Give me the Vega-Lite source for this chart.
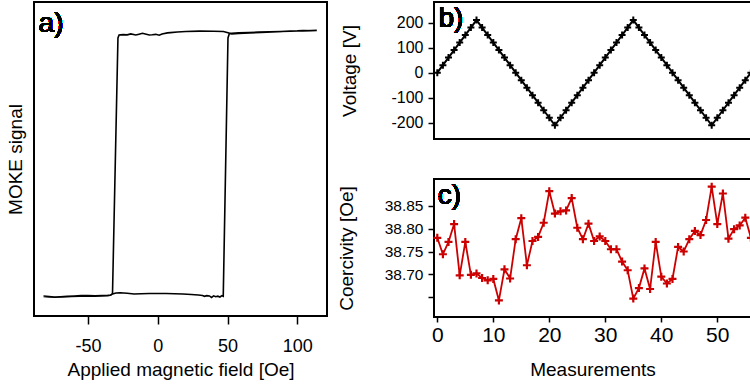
{
  "$schema": "https://vega.github.io/schema/vega-lite/v6.json",
  "background": "white",
  "padding": {"left": 5, "top": 1, "right": 0, "bottom": 0},
  "config": {
    "font": "Liberation Sans",
    "view": {"stroke": "black", "strokeWidth": 2},
    "text": {"fontWeight": "normal"},
    "axis": {
      "grid": false,
      "domain": false,
      "tickColor": "black",
      "tickWidth": 1.5,
      "tickCount": 12,
      "labelColor": "black",
      "titleColor": "black",
      "labelFont": "Liberation Sans",
      "titleFont": "Liberation Sans",
      "titleFontWeight": "normal",
      "titleFontSize": 19,
      "labelOverlap": false
    }
  },
  "datasets": {
    "loop": [
      {"i": 0, "H": -82, "moke": -1.000},
      {"i": 1, "H": -78, "moke": -1.004},
      {"i": 2, "H": -74, "moke": -1.008},
      {"i": 3, "H": -70, "moke": -1.006},
      {"i": 4, "H": -65, "moke": -1.003},
      {"i": 5, "H": -60, "moke": -1.000},
      {"i": 6, "H": -55, "moke": -0.998},
      {"i": 7, "H": -50, "moke": -0.998},
      {"i": 8, "H": -45, "moke": -0.999},
      {"i": 9, "H": -40, "moke": -0.997},
      {"i": 10, "H": -36, "moke": -0.996},
      {"i": 11, "H": -34, "moke": -0.993},
      {"i": 12, "H": -32.5, "moke": -0.985},
      {"i": 13, "H": -30, "moke": -0.978},
      {"i": 14, "H": -27, "moke": -0.976},
      {"i": 15, "H": -22, "moke": -0.980},
      {"i": 16, "H": -17, "moke": -0.985},
      {"i": 17, "H": -12, "moke": -0.983},
      {"i": 18, "H": -6, "moke": -0.982},
      {"i": 19, "H": 0, "moke": -0.981},
      {"i": 20, "H": 6, "moke": -0.982},
      {"i": 21, "H": 12, "moke": -0.983},
      {"i": 22, "H": 18, "moke": -0.985},
      {"i": 23, "H": 24, "moke": -0.989},
      {"i": 24, "H": 29, "moke": -0.993},
      {"i": 25, "H": 32, "moke": -0.996},
      {"i": 26, "H": 33.5, "moke": -1.003},
      {"i": 27, "H": 35, "moke": -0.998},
      {"i": 28, "H": 37, "moke": -1.000},
      {"i": 29, "H": 38.5, "moke": -1.011},
      {"i": 30, "H": 40, "moke": -0.999},
      {"i": 31, "H": 41.5, "moke": -1.006},
      {"i": 32, "H": 43, "moke": -1.002},
      {"i": 33, "H": 44.5, "moke": -1.008},
      {"i": 34, "H": 46, "moke": -0.998},
      {"i": 35, "H": 46.9, "moke": -1.002},
      {"i": 36, "H": 50.3, "moke": 0.955},
      {"i": 37, "H": 51.2, "moke": 0.985},
      {"i": 38, "H": 53, "moke": 0.990},
      {"i": 39, "H": 58, "moke": 0.994},
      {"i": 40, "H": 65, "moke": 0.996},
      {"i": 41, "H": 72, "moke": 0.999},
      {"i": 42, "H": 80, "moke": 1.001},
      {"i": 43, "H": 88, "moke": 1.004},
      {"i": 44, "H": 95, "moke": 1.006},
      {"i": 45, "H": 100, "moke": 1.008},
      {"i": 46, "H": 104, "moke": 1.011},
      {"i": 47, "H": 108, "moke": 1.009},
      {"i": 48, "H": 114, "moke": 1.012},
      {"i": 49, "H": 110, "moke": 1.010},
      {"i": 50, "H": 104, "moke": 1.008},
      {"i": 51, "H": 98, "moke": 1.007},
      {"i": 52, "H": 90, "moke": 1.003},
      {"i": 53, "H": 82, "moke": 1.000},
      {"i": 54, "H": 74, "moke": 0.996},
      {"i": 55, "H": 66, "moke": 0.993},
      {"i": 56, "H": 58, "moke": 0.989},
      {"i": 57, "H": 53, "moke": 0.985},
      {"i": 58, "H": 51, "moke": 0.992},
      {"i": 59, "H": 47, "moke": 1.003},
      {"i": 60, "H": 40, "moke": 1.005},
      {"i": 61, "H": 30, "moke": 1.006},
      {"i": 62, "H": 20, "moke": 1.003},
      {"i": 63, "H": 14, "moke": 1.000},
      {"i": 64, "H": 9, "moke": 0.995},
      {"i": 65, "H": 6.9, "moke": 0.993},
      {"i": 66, "H": 3, "moke": 0.985},
      {"i": 67, "H": 1, "moke": 0.975},
      {"i": 68, "H": -1.4, "moke": 0.982},
      {"i": 69, "H": -4, "moke": 0.979},
      {"i": 70, "H": -6.2, "moke": 0.977},
      {"i": 71, "H": -9, "moke": 0.985},
      {"i": 72, "H": -11, "moke": 0.990},
      {"i": 73, "H": -13.5, "moke": 0.983},
      {"i": 74, "H": -15.8, "moke": 0.977},
      {"i": 75, "H": -19.4, "moke": 0.985},
      {"i": 76, "H": -22, "moke": 0.978},
      {"i": 77, "H": -25, "moke": 0.980},
      {"i": 78, "H": -27.8, "moke": 0.977},
      {"i": 79, "H": -28.6, "moke": 0.955},
      {"i": 80, "H": -32.5, "moke": -0.980},
      {"i": 81, "H": -33.5, "moke": -0.993},
      {"i": 82, "H": -36, "moke": -0.998},
      {"i": 83, "H": -40, "moke": -1.001},
      {"i": 84, "H": -45, "moke": -1.002},
      {"i": 85, "H": -50, "moke": -1.000},
      {"i": 86, "H": -56, "moke": -1.002},
      {"i": 87, "H": -62, "moke": -1.003},
      {"i": 88, "H": -68, "moke": -1.007},
      {"i": 89, "H": -74, "moke": -1.010},
      {"i": 90, "H": -78, "moke": -1.008},
      {"i": 91, "H": -82, "moke": -1.004}
    ],
    "voltage": [
      {"n": 0, "V": 0}, {"n": 1, "V": 30}, {"n": 2, "V": 60}, {"n": 3, "V": 90},
      {"n": 4, "V": 120}, {"n": 5, "V": 150}, {"n": 6, "V": 180}, {"n": 7, "V": 210},
      {"n": 8, "V": 180}, {"n": 9, "V": 150}, {"n": 10, "V": 120}, {"n": 11, "V": 90},
      {"n": 12, "V": 60}, {"n": 13, "V": 30}, {"n": 14, "V": 0}, {"n": 15, "V": -30},
      {"n": 16, "V": -60}, {"n": 17, "V": -90}, {"n": 18, "V": -120}, {"n": 19, "V": -150},
      {"n": 20, "V": -180}, {"n": 21, "V": -210}, {"n": 22, "V": -180}, {"n": 23, "V": -150},
      {"n": 24, "V": -120}, {"n": 25, "V": -90}, {"n": 26, "V": -60}, {"n": 27, "V": -30},
      {"n": 28, "V": 0}, {"n": 29, "V": 30}, {"n": 30, "V": 60}, {"n": 31, "V": 90},
      {"n": 32, "V": 120}, {"n": 33, "V": 150}, {"n": 34, "V": 180}, {"n": 35, "V": 210},
      {"n": 36, "V": 180}, {"n": 37, "V": 150}, {"n": 38, "V": 120}, {"n": 39, "V": 90},
      {"n": 40, "V": 60}, {"n": 41, "V": 30}, {"n": 42, "V": 0}, {"n": 43, "V": -30},
      {"n": 44, "V": -60}, {"n": 45, "V": -90}, {"n": 46, "V": -120}, {"n": 47, "V": -150},
      {"n": 48, "V": -180}, {"n": 49, "V": -210}, {"n": 50, "V": -180}, {"n": 51, "V": -150},
      {"n": 52, "V": -120}, {"n": 53, "V": -90}, {"n": 54, "V": -60}, {"n": 55, "V": -30},
      {"n": 56, "V": 0}
    ],
    "coercivity": [
      {"n": 0, "Hc": 38.780}, {"n": 1, "Hc": 38.744}, {"n": 2, "Hc": 38.771}, {"n": 3, "Hc": 38.810},
      {"n": 4, "Hc": 38.698}, {"n": 5, "Hc": 38.771}, {"n": 6, "Hc": 38.699}, {"n": 7, "Hc": 38.702},
      {"n": 8, "Hc": 38.692}, {"n": 9, "Hc": 38.687}, {"n": 10, "Hc": 38.690}, {"n": 11, "Hc": 38.643},
      {"n": 12, "Hc": 38.711}, {"n": 13, "Hc": 38.691}, {"n": 14, "Hc": 38.777}, {"n": 15, "Hc": 38.823},
      {"n": 16, "Hc": 38.720}, {"n": 17, "Hc": 38.773}, {"n": 18, "Hc": 38.782}, {"n": 19, "Hc": 38.813},
      {"n": 20, "Hc": 38.882}, {"n": 21, "Hc": 38.833}, {"n": 22, "Hc": 38.838}, {"n": 23, "Hc": 38.840},
      {"n": 24, "Hc": 38.867}, {"n": 25, "Hc": 38.802}, {"n": 26, "Hc": 38.777}, {"n": 27, "Hc": 38.811},
      {"n": 28, "Hc": 38.773}, {"n": 29, "Hc": 38.783}, {"n": 30, "Hc": 38.773}, {"n": 31, "Hc": 38.755},
      {"n": 32, "Hc": 38.755}, {"n": 33, "Hc": 38.728}, {"n": 34, "Hc": 38.709}, {"n": 35, "Hc": 38.647},
      {"n": 36, "Hc": 38.670}, {"n": 37, "Hc": 38.713}, {"n": 38, "Hc": 38.668}, {"n": 39, "Hc": 38.771},
      {"n": 40, "Hc": 38.695}, {"n": 41, "Hc": 38.680}, {"n": 42, "Hc": 38.690}, {"n": 43, "Hc": 38.760},
      {"n": 44, "Hc": 38.750}, {"n": 45, "Hc": 38.777}, {"n": 46, "Hc": 38.795}, {"n": 47, "Hc": 38.786},
      {"n": 48, "Hc": 38.819}, {"n": 49, "Hc": 38.892}, {"n": 50, "Hc": 38.810}, {"n": 51, "Hc": 38.877},
      {"n": 52, "Hc": 38.778}, {"n": 53, "Hc": 38.799}, {"n": 54, "Hc": 38.807}, {"n": 55, "Hc": 38.824},
      {"n": 56, "Hc": 38.780}
    ]
  },
  "spacing": 8,
  "hconcat": [
    {
      "width": 293,
      "height": 314,
      "data": {"name": "loop"},
      "layer": [
        {
          "mark": {"type": "line", "color": "black", "strokeWidth": 1.6},
          "encoding": {
            "x": {
              "field": "H", "type": "quantitative",
              "scale": {"domain": [-88.8, 121.3], "nice": false, "zero": false},
              "axis": {
                "title": "Applied magnetic field [Oe]",
                "values": [-50, 0, 50, 100],
                "labelExpr": "replace(datum.label, '\u2212', '-')",
                "tickSize": 8, "labelPadding": 13, "labelFontSize": 18, "titlePadding": 5
              }
            },
            "y": {
              "field": "moke", "type": "quantitative",
              "scale": {"domain": [-1.152, 1.227], "nice": false, "zero": false},
              "axis": {"title": "MOKE signal", "labels": false, "ticks": false, "titlePadding": 9}
            },
            "order": {"field": "i"}
          }
        },
        {
          "mark": {"type": "text", "fontSize": 28, "fontWeight": "normal", "align": "left", "baseline": "alphabetic", "color": "black"},
          "encoding": {
            "x": {"datum": -85.5},
            "y": {"datum": 1.0},
            "text": {"value": "a)"}
          }
        }
      ]
    },
    {
      "spacing": 37,
      "vconcat": [
        {
          "width": 317,
          "height": 137,
          "data": {"name": "voltage"},
          "layer": [
            {
              "mark": {"type": "line", "color": "black", "strokeWidth": 2},
              "encoding": {
                "x": {
                  "field": "n", "type": "quantitative",
                  "scale": {"domain": [-0.59, 56.02], "nice": false, "zero": false},
                  "axis": null
                },
                "y": {
                  "field": "V", "type": "quantitative",
                  "scale": {"domain": [-264.8, 282], "nice": false, "zero": false},
                  "axis": {
                    "title": "Voltage [V]",
                    "values": [-200, -100, 0, 100, 200],
                    "format": "d",
                    "labelExpr": "replace(datum.label, '\u2212', '-')",
                    "tickSize": 6, "labelPadding": 5, "labelFontSize": 16, "titlePadding": 31.5
                  }
                }
              }
            },
            {
              "mark": {"type": "point", "shape": "M-1,0H1M0,-1V1", "filled": false, "color": "black", "strokeWidth": 2, "size": 49, "opacity": 1},
              "encoding": {
                "x": {"field": "n", "type": "quantitative"},
                "y": {"field": "V", "type": "quantitative"}
              }
            },
            {
              "mark": {"type": "text", "fontSize": 28, "fontWeight": "normal", "align": "left", "baseline": "alphabetic", "color": "black"},
              "encoding": {
                "x": {"datum": 0.2},
                "y": {"datum": 181},
                "text": {"value": "b)"}
              }
            }
          ]
        },
        {
          "width": 317,
          "height": 138,
          "data": {"name": "coercivity"},
          "layer": [
            {
              "mark": {"type": "line", "color": "#cc0000", "strokeWidth": 1.8},
              "encoding": {
                "x": {
                  "field": "n", "type": "quantitative",
                  "scale": {"domain": [-0.59, 56.02], "nice": false, "zero": false},
                  "axis": {
                    "title": "Measurements",
                    "values": [0, 10, 20, 30, 40, 50],
                    "tickSize": 5, "labelPadding": 2, "labelFontSize": 21, "titlePadding": 15
                  }
                },
                "y": {
                  "field": "Hc", "type": "quantitative",
                  "scale": {"domain": [38.6067, 38.9087], "nice": false, "zero": false},
                  "axis": {
                    "title": "Coercivity [Oe]",
                    "values": [38.65, 38.7, 38.75, 38.8, 38.85],
                    "labelExpr": "datum.value < 38.67 ? '' : format(datum.value, '.2f')",
                    "tickSize": 6, "labelPadding": 5, "labelFontSize": 15.5, "titlePadding": 27.5
                  }
                }
              }
            },
            {
              "mark": {"type": "point", "shape": "M-1,0H1M0,-1V1", "filled": false, "color": "#cc0000", "strokeWidth": 2.2, "size": 64, "opacity": 1},
              "encoding": {
                "x": {"field": "n", "type": "quantitative"},
                "y": {"field": "Hc", "type": "quantitative"}
              }
            },
            {
              "mark": {"type": "text", "fontSize": 28, "fontWeight": "normal", "align": "left", "baseline": "alphabetic", "color": "black"},
              "encoding": {
                "x": {"datum": 0.1},
                "y": {"datum": 38.854},
                "text": {"value": "c)"}
              }
            }
          ]
        }
      ]
    }
  ]
}
